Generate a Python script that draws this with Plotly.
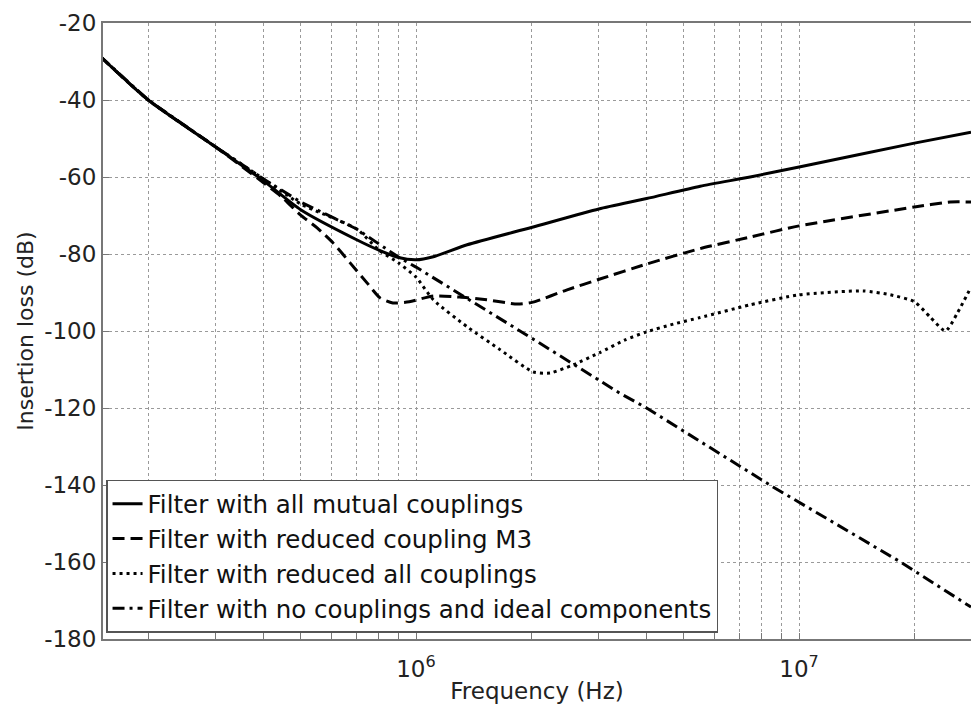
import numpy as np
import plotly.graph_objects as go

# ---- data (frequency in Hz, insertion loss in dB) ----
freq_all = [150e3, 200e3, 300e3, 400e3, 500e3, 700e3, 800e3, 900e3, 1.0e6, 1.11e6,
            1.36e6, 2.0e6, 3.0e6, 4.0e6, 5.52e6, 7.45e6, 1e7, 2e7, 28.1e6]
loss_all = [-28.7, -40.0, -52.2, -61.0, -68.5, -76.3, -79.0, -80.9, -81.5, -80.7,
            -77.6, -73.1, -68.3, -65.6, -62.4, -60.0, -57.4, -51.2, -48.4]

freq_m3 = [150e3, 200e3, 300e3, 400e3, 450e3, 500e3, 552e3, 607e3, 673e3, 745e3,
           806e3, 870e3, 960e3, 1.11e6, 1.30e6, 1.53e6, 1.84e6, 2.02e6, 2.48e6,
           3.02e6, 4.0e6, 5.52e6, 7.45e6, 1e7, 2e7, 24.8e6, 28.1e6]
loss_m3 = [-28.7, -40.0, -52.2, -61.5, -65.5, -69.9, -73.2, -77.1, -82.3, -87.5,
           -91.4, -92.7, -92.4, -90.9, -91.2, -91.9, -93.0, -92.5, -89.3,
           -86.5, -82.6, -78.6, -75.6, -72.7, -67.8, -66.5, -66.5]

freq_red = [150e3, 200e3, 300e3, 400e3, 500e3, 700e3, 800e3, 900e3, 1.0e6, 1.11e6,
            1.36e6, 1.66e6, 2.02e6, 2.24e6, 2.57e6, 3.02e6, 3.50e6, 4.0e6, 4.7e6,
            5.52e6, 7.45e6, 1e7, 14.7e6, 17.3e6, 2e7, 22e6, 24.1e6, 25.9e6, 28.1e6]
loss_red = [-28.7, -40.0, -52.2, -60.5, -67.0, -73.5, -79.0, -82.3, -86.0, -91.9,
            -98.9, -104.9, -110.6, -110.9, -108.8, -105.6, -102.4, -100.2, -98.2,
            -96.5, -93.2, -90.6, -89.6, -90.6, -92.4, -96.4, -100.0, -95.3, -88.6]

freq_ideal = [150e3, 200e3, 300e3, 400e3, 500e3, 700e3, 900e3, 1e6, 2e6, 3.41e6,
              4e6, 8.55e6, 18.4e6, 28.1e6]
loss_ideal = [-28.7, -40.0, -52.2, -60.5, -66.5, -73.5, -80.8, -83.4, -101.8, -116.2,
              -120.0, -140.5, -160.0, -171.7]

names = ["Filter with all mutual couplings",
         "Filter with reduced coupling M3",
         "Filter with reduced all couplings",
         "Filter with no couplings and ideal components"]

y_ticks = [-20, -40, -60, -80, -100, -120, -140, -160, -180]
x_decades = [1e6, 1e7]
x_minor = [m * d for d in [1e5, 1e6, 1e7] for m in range(2, 10)]

FONT = "DejaVu Sans, Arial, sans-serif"

fig = go.Figure()
series = [
    (freq_all, loss_all, "solid", "spline"),
    (freq_m3, loss_m3, "12px,6px", "spline"),
    (freq_red, loss_red, "3px,4px", "spline"),
    (freq_ideal, loss_ideal, "12px,5px,3px,5px", "linear"),
]
for i, (fx, fy, dash, shape) in enumerate(series):
    fig.add_trace(go.Scatter(
        x=fx, y=fy, mode="lines", name=names[i],
        line=dict(color="black", width=3, dash=dash, shape=shape,
                  smoothing=0.6 if shape == "spline" else None),
    ))

tickvals_x = sorted(x_minor + x_decades)
ticktext_x = ["10<sup>6</sup>" if v == 1e6 else ("10<sup>7</sup>" if v == 1e7 else "")
              for v in tickvals_x]

fig.update_layout(
    width=971, height=706,
    margin=dict(l=103, r=0, t=23, b=67),
    paper_bgcolor="white", plot_bgcolor="white",
    font=dict(family=FONT, color="#222222", size=22),
    showlegend=True,
    legend=dict(
        x=0.0035, y=0.01, xanchor="left", yanchor="bottom",
        bgcolor="white", bordercolor="#555555", borderwidth=1.5,
        font=dict(family=FONT, size=24.5, color="#111111"),
        itemwidth=30,
    ),
    xaxis=dict(
        type="log", range=[np.log10(152.4e3), np.log10(28.1e6)],
        tickvals=tickvals_x, ticktext=ticktext_x,
        ticks="inside", ticklen=6, tickcolor="#777777", tickwidth=1,
        ticklabelstandoff=8,
        showgrid=True, gridcolor="#9a9a9a", griddash="dot", gridwidth=1,
        showline=True, linecolor="#777777", linewidth=2, mirror=True,
        zeroline=False,
        tickfont=dict(family=FONT, size=23, color="#222222"),
        title=dict(text="Frequency (Hz)", font=dict(family=FONT, size=23, color="#222222"),
                   standoff=2),
    ),
    yaxis=dict(
        range=[-180, -20], tickvals=y_ticks, ticktext=[str(v) for v in y_ticks],
        ticks="inside", ticklen=6, tickcolor="#777777", tickwidth=1,
        showgrid=True, gridcolor="#9a9a9a", griddash="dot", gridwidth=1,
        showline=True, linecolor="#777777", linewidth=2, mirror=False,
        zeroline=False,
        tickfont=dict(family=FONT, size=23, color="#222222"),
        title=dict(text="Insertion loss (dB)", font=dict(family=FONT, size=22, color="#222222"),
                   standoff=4),
    ),
)

fig.write_html("out.html")
